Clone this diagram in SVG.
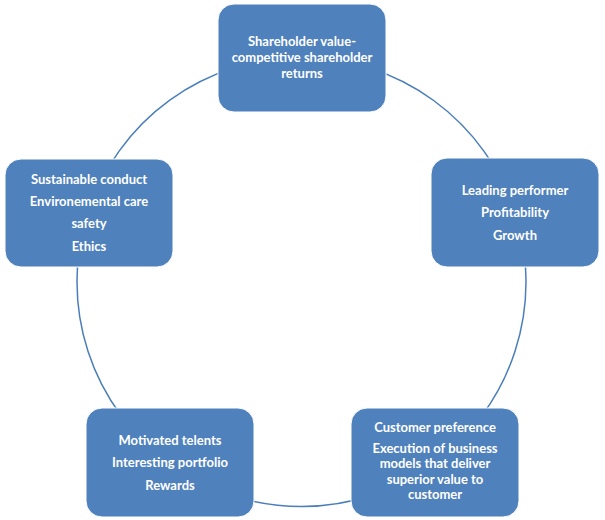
<svg xmlns="http://www.w3.org/2000/svg" width="605" height="520" viewBox="0 0 605 520">
<style>
.box{fill:#4f81bd;stroke:#ffffff;stroke-width:1}
.lbl{font-family:Lato,"Liberation Sans",sans-serif;font-weight:bold;font-size:13px;fill:#ffffff;text-anchor:middle}
.arc{fill:none;stroke:#4a7ebb;stroke-width:1.5}
</style>
<rect width="605" height="520" fill="#ffffff"/>
<g id="connectors">
<path class="arc" d="M302,57.5 A224.5,224.5 0 0 1 515,212.6"/>
<path class="arc" d="M515,212.6 A224.5,224.5 0 0 1 433.5,463.6"/>
<path class="arc" d="M433.5,463.6 A224.5,224.5 0 0 1 169.5,463.6"/>
<path class="arc" d="M169.5,463.6 A224.5,224.5 0 0 1 88,212.6"/>
<path class="arc" d="M88,212.6 A224.5,224.5 0 0 1 302,57.5"/>
</g>
<g id="node-top">
<rect class="box" x="218" y="4" width="168" height="108" rx="16"/>
<text class="lbl" x="302" y="46">Shareholder value-</text>
<text class="lbl" x="302" y="62">competitive shareholder</text>
<text class="lbl" x="302" y="78">returns</text>
</g>
<g id="node-right">
<rect class="box" x="431" y="158" width="168" height="109" rx="16"/>
<text class="lbl" x="515" y="195">Leading performer</text>
<text class="lbl" x="515" y="217">Profitability</text>
<text class="lbl" x="515" y="240">Growth</text>
</g>
<g id="node-bottom-right">
<rect class="box" x="351" y="408" width="168" height="109" rx="16"/>
<text class="lbl" x="435" y="432">Customer preference</text>
<text class="lbl" x="435" y="453">Execution of business</text>
<text class="lbl" x="435" y="468">models that deliver</text>
<text class="lbl" x="435" y="484">superior value to</text>
<text class="lbl" x="435" y="499">customer</text>
</g>
<g id="node-bottom-left">
<rect class="box" x="86" y="408" width="168" height="109" rx="16"/>
<text class="lbl" x="170" y="445">Motivated telents</text>
<text class="lbl" x="170" y="467">Interesting portfolio</text>
<text class="lbl" x="170" y="490">Rewards</text>
</g>
<g id="node-left">
<rect class="box" x="5" y="159" width="168" height="108" rx="16"/>
<text class="lbl" x="89" y="184">Sustainable conduct</text>
<text class="lbl" x="89" y="206">Environemental care</text>
<text class="lbl" x="89" y="228">safety</text>
<text class="lbl" x="89" y="251">Ethics</text>
</g>
</svg>
